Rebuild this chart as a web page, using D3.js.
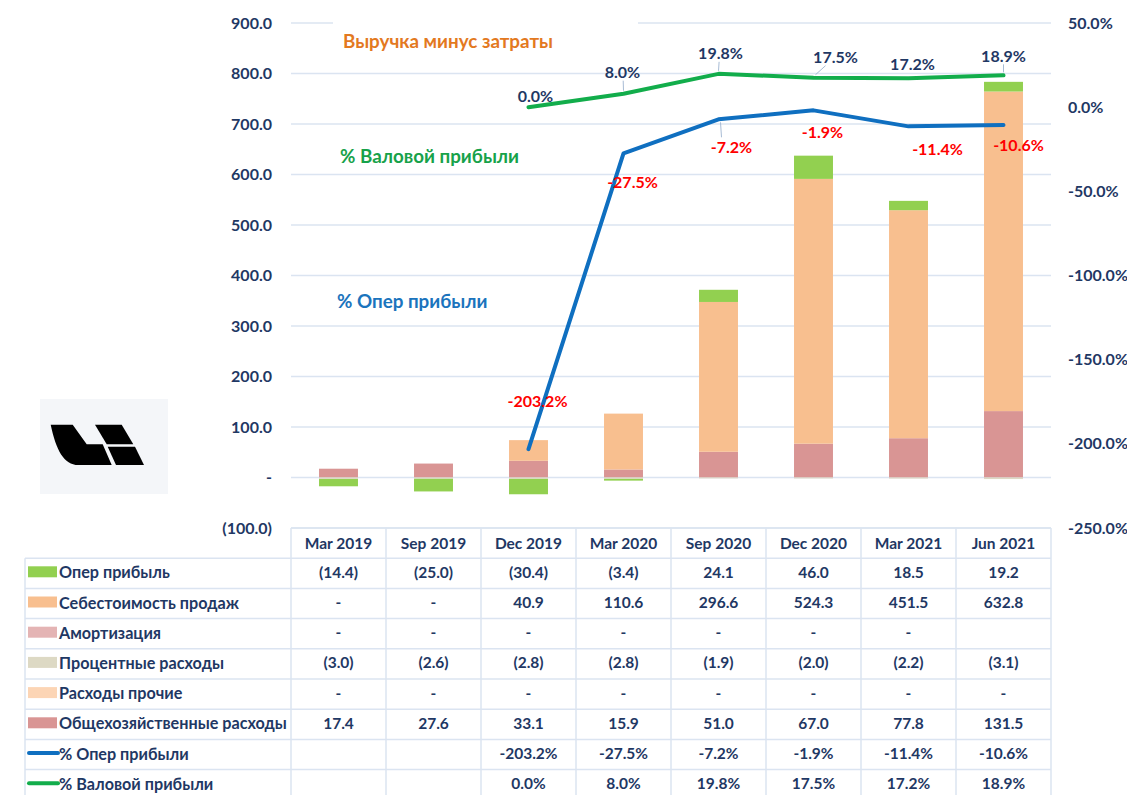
<!DOCTYPE html>
<html>
<head>
<meta charset="utf-8">
<script src="https://cdn.jsdelivr.net/npm/d3@7"></script>
<style>
  html, body { margin: 0; padding: 0; background: #ffffff; }
  svg { display: block; font-family: Lato, "Open Sans", sans-serif; font-weight: 700; }
</style>
</head>
<body>
<svg id="chart" width="1127" height="795"></svg>
<script>
// ---------- DATA ----------
const categories = ["Mar 2019", "Sep 2019", "Dec 2019", "Mar 2020", "Sep 2020", "Dec 2020", "Mar 2021", "Jun 2021"];
const opProfit      = [-14.4, -25.0, -30.4, -3.4, 24.1, 46.0, 18.5, 19.2];
const costOfSales   = [0, 0, 40.9, 110.6, 296.6, 524.3, 451.5, 632.8];
const amortization  = [0, 0, 0, 0, 0, 0, 0, null];
const interestExp   = [-3.0, -2.6, -2.8, -2.8, -1.9, -2.0, -2.2, -3.1];
const otherExp      = [0, 0, 0, 0, 0, 0, 0, 0];
const generalExp    = [17.4, 27.6, 33.1, 15.9, 51.0, 67.0, 77.8, 131.5];
const opMargin      = [null, null, -203.2, -27.5, -7.2, -1.9, -11.4, -10.6];
const grossMargin   = [null, null, 0.0, 8.0, 19.8, 17.5, 17.2, 18.9];
const leftTicks  = [-100, 0, 100, 200, 300, 400, 500, 600, 700, 800, 900];
const rightTicks = [-250, -200, -150, -100, -50, 0, 50];

const barSeries = [
  { key: "Опер прибыль",              values: opProfit,     color: "#92d050" },
  { key: "Себестоимость продаж",      values: costOfSales,  color: "#f8bf8f" },
  { key: "Амортизация",               values: amortization, color: "#e4b4b4" },
  { key: "Процентные расходы",        values: interestExp,  color: "#ddd9c4" },
  { key: "Расходы прочие",            values: otherExp,     color: "#fcd5b5" },
  { key: "Общехозяйственные расходы", values: generalExp,   color: "#d99594" }
];
const lineSeries = [
  { key: "% Опер прибыли",    values: opMargin,    color: "#0f6fc0" },
  { key: "% Валовой прибыли", values: grossMargin, color: "#12ad4b" }
];
// label offsets (layout, px) relative to points, and which labels have leader lines
const opLabelDx = [0, 0, 9, 9, 13, 9, 29, 15];
const opLabelDy = [0, 0, -49, 28, 27, 21, 22, 19];
const opLeader  = [false, false, false, false, true, false, false, false];
const grLabelDx = [0, 0, 7, -1, 2, 22, 4, 0];
const grLabelDy = [0, 0, -12, -22, -21, -21, -15, -20];
const grLeader  = [false, false, false, true, true, true, false, true];

// ---------- HELPERS ----------
const f1 = v => d3.format(".1f")(v).replace("\u2212", "-");

// ---------- LAYOUT ----------
const svg = d3.select("#chart");
const navy = "#1f3864";
const gridColor = "#dbe4f1";
const plotL = 291, plotR = 1051, plotT = 23, plotB = 528;

const x = d3.scaleBand().domain(categories).range([plotL, plotR]).padding(0);
const barW = x.bandwidth() * 0.41;
const y = d3.scaleLinear().domain([-100, 900]).range([plotB, plotT]);
const yR = d3.scaleLinear().domain([-250, 50]).range([plotB, plotT]);

// gridlines
svg.append("g").selectAll("line").data(leftTicks).join("line")
  .attr("x1", plotL).attr("x2", plotR)
  .attr("y1", d => y(d)).attr("y2", d => y(d))
  .attr("stroke", gridColor).attr("stroke-width", 1.3);

// left axis
const leftAxis = d3.axisLeft(y).tickValues(leftTicks).tickSize(0).tickPadding(0)
  .tickFormat(d => d === 0 ? "-" : d < 0 ? "(" + f1(-d) + ")" : f1(d));
const gL = svg.append("g").attr("transform", "translate(272,0)").call(leftAxis);
gL.select(".domain").remove();
gL.selectAll("text").attr("fill", navy).style("font-size", "16px").style("font-family", "Lato, sans-serif").style("font-weight", 700);

// right axis
const rightAxis = d3.axisRight(yR).tickValues(rightTicks).tickSize(0).tickPadding(0)
  .tickFormat(d => f1(d) + "%");
const gR = svg.append("g").attr("transform", "translate(1068,0)").call(rightAxis);
gR.select(".domain").remove();
gR.selectAll("text").attr("fill", navy).style("font-size", "16px").style("font-family", "Lato, sans-serif").style("font-weight", 700);

// stacked bars (bottom-up order)
const stackOrder = ["Общехозяйственные расходы", "Расходы прочие", "Процентные расходы", "Амортизация", "Себестоимость продаж", "Опер прибыль"];
const table = categories.map((c, i) => {
  const row = { cat: c };
  barSeries.forEach(s => { row[s.key] = s.values[i] || 0; });
  return row;
});
const stacked = d3.stack().keys(stackOrder).offset(d3.stackOffsetDiverging)(table);
const colorOf = Object.fromEntries(barSeries.map(s => [s.key, s.color]));

svg.append("g").selectAll("g").data(stacked).join("g")
  .attr("fill", d => colorOf[d.key])
  .selectAll("rect").data(d => d).join("rect")
  .attr("x", d => x(d.data.cat) + (x.bandwidth() - barW) / 2)
  .attr("width", barW)
  .attr("y", d => y(Math.max(d[0], d[1])))
  .attr("height", d => Math.abs(y(d[0]) - y(d[1])));

// lines
const lineGen = d3.line()
  .defined(d => d.v !== null)
  .x(d => x(d.cat) + x.bandwidth() / 2)
  .y(d => yR(d.v));
lineSeries.forEach(s => {
  const pts = categories.map((c, i) => ({ cat: c, v: s.values[i] }));
  svg.append("path").datum(pts)
    .attr("d", lineGen)
    .attr("fill", "none").attr("stroke", s.color).attr("stroke-width", 4)
    .attr("stroke-linejoin", "round").attr("stroke-linecap", "round");
});

// data labels (+ thin leader lines)
function addLabels(values, dx, dy, leader, color) {
  const pts = categories.map((c, i) => ({ cat: c, v: values[i], i })).filter(d => d.v !== null);
  const px = d => x(d.cat) + x.bandwidth() / 2;
  const g = svg.append("g");
  g.selectAll("line").data(pts.filter(d => leader[d.i])).join("line")
    .attr("x1", d => px(d) + (dx[d.i] > 10 ? 2 : 0))
    .attr("y1", d => yR(d.v) + (dy[d.i] < 0 ? -3 : 3))
    .attr("x2", d => px(d) + (dx[d.i] > 10 ? dx[d.i] - 10 : dx[d.i] * 0.3))
    .attr("y2", d => yR(d.v) + dy[d.i] + (dy[d.i] < 0 ? 9 : -9))
    .attr("stroke", "#9db3cf").attr("stroke-width", 0.9);
  g.selectAll("text").data(pts).join("text")
    .attr("x", d => px(d) + dx[d.i])
    .attr("y", d => yR(d.v) + dy[d.i])
    .attr("text-anchor", "middle").attr("dominant-baseline", "central")
    .attr("fill", color).style("font-size", "16px")
    .text(d => f1(d.v) + "%");
}
addLabels(opMargin, opLabelDx, opLabelDy, opLeader, "#ff0000");
addLabels(grossMargin, grLabelDx, grLabelDy, grLeader, navy);

// annotation boxes
svg.append("rect").attr("x", 333).attr("y", 20).attr("width", 305).attr("height", 40).attr("fill", "#fff");
svg.append("text").attr("x", 343).attr("y", 40).attr("dominant-baseline", "central")
  .attr("fill", "#e3791f").style("font-size", "18.8px").text("Выручка минус затраты");
svg.append("text").attr("x", 340).attr("y", 155).attr("dominant-baseline", "central")
  .attr("fill", "#17a24a").style("font-size", "18.8px").text("% Валовой прибыли");
svg.append("text").attr("x", 337).attr("y", 300).attr("dominant-baseline", "central")
  .attr("fill", "#1b74bd").style("font-size", "18.8px").text("% Опер прибыли");

// logo
const logo = svg.append("g");
logo.append("rect").attr("x", 40).attr("y", 399).attr("width", 128).attr("height", 95).attr("fill", "#f4f6f9");
logo.append("path").attr("fill", "#000")
  .attr("d", "M50.7,424.7 L72.7,424.7 L86.7,444.3 L102.7,444.3 L111.7,465 L78.3,465 C64,465 56,450 50.7,424.7 Z");
logo.append("path").attr("fill", "#000")
  .attr("d", "M95,424.7 L121.7,424.7 L133.3,444.3 L106.7,444.3 Z");
logo.append("path").attr("fill", "#000")
  .attr("d", "M107.7,446.7 L135,446.7 L144,465 L116,465 Z");

// ---------- DATA TABLE ----------
const tblL = 25, headerTop = 528, rowH = 30.2;
const tableRows = [
  ...barSeries.map(s => ({ type: "bar", ...s })),
  ...lineSeries.map(s => ({ type: "line", ...s }))
];
const fmtBar = v => v === null ? "" : v === 0 ? "-" : v < 0 ? "(" + f1(-v) + ")" : f1(v);
const fmtPct = v => v === null ? "" : f1(v) + "%";
const tableBottom = headerTop + rowH * (tableRows.length + 1);
const tbl = svg.append("g");

// horizontal lines
const hLines = d3.range(tableRows.length + 2).map(i => headerTop + i * rowH);
tbl.selectAll("line.h").data(hLines).join("line").attr("class", "h")
  .attr("x1", (d, i) => i === 0 ? plotL : tblL).attr("x2", plotR)
  .attr("y1", d => d).attr("y2", d => d)
  .attr("stroke", gridColor).attr("stroke-width", 1.5);
// vertical lines
const vLines = [plotL, ...categories.map(c => x(c) + x.bandwidth())];
tbl.selectAll("line.v").data(vLines).join("line").attr("class", "v")
  .attr("x1", d => d).attr("x2", d => d)
  .attr("y1", headerTop).attr("y2", tableBottom)
  .attr("stroke", gridColor).attr("stroke-width", 1.5);
tbl.append("line").attr("x1", tblL).attr("x2", tblL).attr("y1", headerTop + rowH).attr("y2", tableBottom)
  .attr("stroke", gridColor).attr("stroke-width", 1.5);

// header
tbl.selectAll("text.hd").data(categories).join("text").attr("class", "hd")
  .attr("x", d => x(d) + x.bandwidth() / 2).attr("y", headerTop + rowH / 2)
  .attr("text-anchor", "middle").attr("dominant-baseline", "central")
  .attr("fill", navy).style("font-size", "15.5px").text(d => d);

// rows
tableRows.forEach((r, ri) => {
  const cy = headerTop + rowH * (ri + 1) + rowH / 2 - 1.5;
  if (r.type === "bar") {
    tbl.append("rect").attr("x", 28).attr("y", cy - 5.5).attr("width", 29).attr("height", 11).attr("fill", r.color);
  } else {
    tbl.append("line").attr("x1", 29).attr("x2", 58).attr("y1", cy).attr("y2", cy)
      .attr("stroke", r.color).attr("stroke-width", 4).attr("stroke-linecap", "round");
  }
  tbl.append("text").attr("x", 59).attr("y", cy).attr("dominant-baseline", "central")
    .attr("fill", navy).style("font-size", "16.2px").text(r.key);
  tbl.append("g").selectAll("text").data(categories).join("text")
    .attr("x", d => x(d) + x.bandwidth() / 2).attr("y", cy)
    .attr("text-anchor", "middle").attr("dominant-baseline", "central")
    .attr("fill", navy).style("font-size", "15.5px")
    .text((d, i) => r.type === "bar" ? fmtBar(r.values[i]) : fmtPct(r.values[i]));
});
</script>
</body>
</html>
